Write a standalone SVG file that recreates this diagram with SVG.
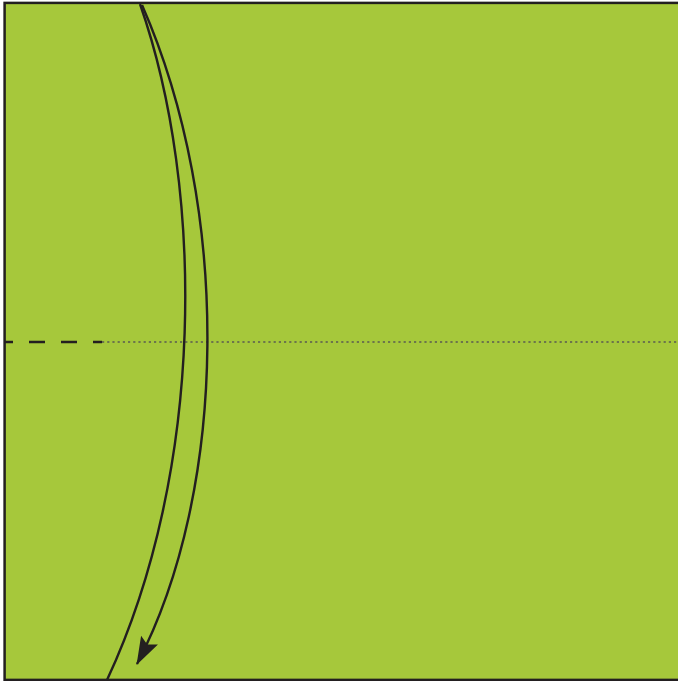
<svg xmlns="http://www.w3.org/2000/svg" width="678" height="681" viewBox="0 0 678 681">
<style>
.paper{fill:#a6c83b;stroke:#231f20;stroke-width:2.5}
.crease{fill:none;stroke:#231f20;stroke-width:2.4}
.valley{fill:none;stroke:#231f20;stroke-width:2.6;stroke-dasharray:16 16;stroke-dashoffset:7}
.dotted{fill:none;stroke:#5a5a52;stroke-width:1.4;stroke-dasharray:2.2 3}
</style>
<defs>
<marker id="head" markerUnits="userSpaceOnUse" markerWidth="40" markerHeight="30" refX="0" refY="0" viewBox="-30 -15 40 30" orient="auto">
<path d="M1,0 L-27,-9.5 L-22,0 L-27,9.5 Z" fill="#231f20"/>
</marker>
</defs>
<rect width="678" height="681" fill="#ffffff"/>
<g id="paper">
<rect class="paper" x="4.6" y="2.9" width="680" height="677"/>
</g>
<g id="connectors">
<path class="valley" d="M4,342 L102,342"/>
<path class="dotted" d="M102,342 L678,342"/>
<path class="crease" d="M140,4 C205,190 205,470 107,680"/>
<path class="crease" d="M142,5 C232,210 228,490 137,664" marker-end="url(#head)"/>
</g>
</svg>
